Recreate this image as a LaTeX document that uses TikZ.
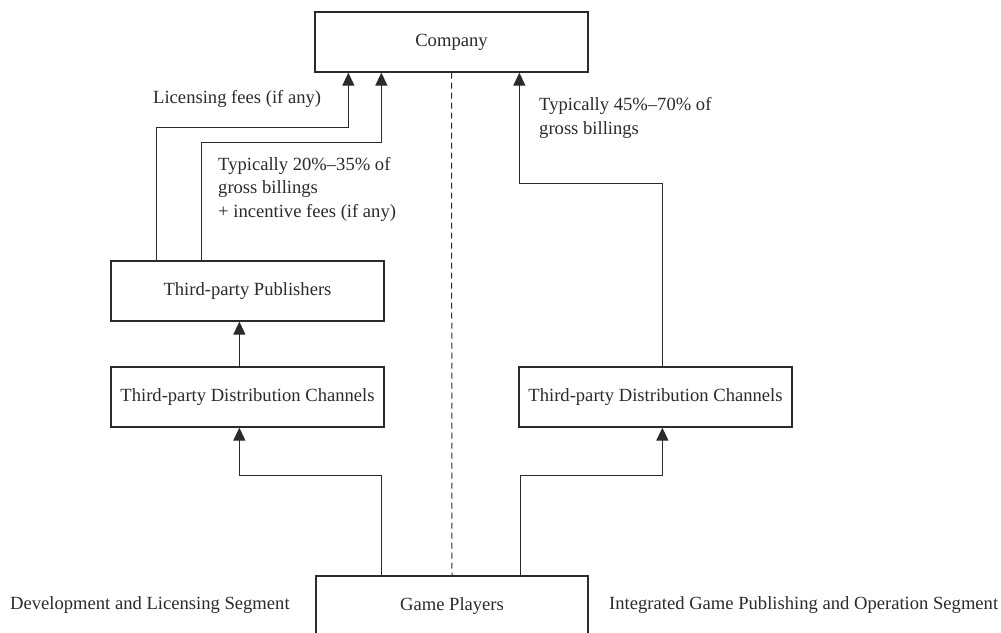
\documentclass[tikz,border=0pt]{standalone}
\usepackage{fontspec}
\setmainfont{Liberation Serif}
\usetikzlibrary{arrows.meta}
\definecolor{ink}{HTML}{2B2B2B}
\begin{document}
\begin{tikzpicture}[x=1pt,y=-1pt,
  every node/.style={font=\fontsize{18.6}{23.5}\selectfont, text=ink},
  box/.style={draw=ink, line width=1.3pt, fill=white, minimum width=273pt,
    minimum height=60pt, inner sep=0pt},
  lbl/.style={anchor=west, align=left, inner sep=0pt},
  flow/.style={draw=ink, line width=1.3pt, -{Triangle[width=12pt,length=13pt]}},
  divider/.style={draw=ink, line width=1pt, dash pattern=on 6pt off 4pt}]
  \clip (0,0) rectangle (1001,632);
  \fill[white] (0,0) rectangle (1001,632);

  % boxes
  \node[box] (comp)  at (451.5,42)  {Company};
  \node[box] (pub)   at (247.5,291) {Third-party Publishers};
  \node[box] (ldist) at (247.5,397) {Third-party Distribution Channels};
  \node[box] (rdist) at (655.5,397) {Third-party Distribution Channels};
  \node[box, minimum width=272pt] (gp) at (452,606) {Game Players};

  % segment divider
  \draw[divider] (comp.south) -- (gp.north);

  % left segment flows
  \draw[flow] ([xshift=66pt]gp.north west) -- ++(0,-100)
      -| ([xshift=129pt]ldist.south west);
  \draw[flow] ([xshift=129pt]ldist.north west) -- ([xshift=129pt]pub.south west);
  \draw[flow] ([xshift=46pt]pub.north west) -- ++(0,-133)
      -| ([xshift=34pt]comp.south west);
  \draw[flow] ([xshift=91pt]pub.north west) -- ++(0,-118)
      -| ([xshift=67pt]comp.south west);

  % right segment flows
  \draw[flow] ([xshift=205pt]gp.north west) -- ++(0,-100)
      -| ([xshift=144pt]rdist.south west);
  \draw[flow] ([xshift=144pt]rdist.north west) -- ++(0,-183)
      -| ([xshift=205pt]comp.south west);

  % labels
  \node[lbl] (lfee) at (153,99) {Licensing fees (if any)};
  \node[lbl] (lpub) at (218,189) {Typically 20\%--35\% of\\gross billings\\+ incentive fees (if any)};
  \node[lbl] (lown) at (539,118) {Typically 45\%--70\% of\\gross billings};
  \node[lbl] (segl) at (10,605) {Development and Licensing Segment};
  \node[lbl] (segr) at (609,605) {Integrated Game Publishing and Operation Segment};
\end{tikzpicture}
\end{document}
